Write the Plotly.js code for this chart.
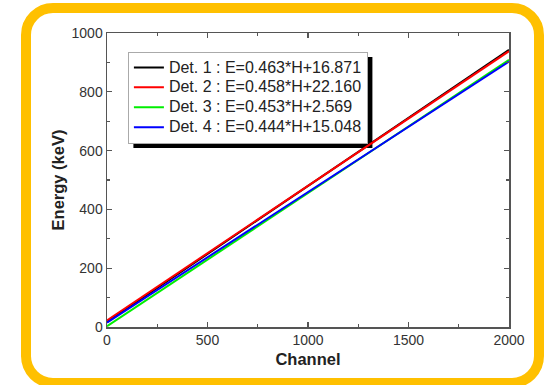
<!DOCTYPE html>
<html>
<head>
<meta charset="utf-8">
<script src="https://cdn.plot.ly/plotly-3.0.1.min.js"></script>
<style>
  html, body { margin: 0; padding: 0; background: #ffffff; }
  #wrap { position: relative; width: 546px; height: 385px; overflow: hidden; background: #ffffff; }
  #frame { position: absolute; left: 21px; top: 3px; width: 503px; height: 365px;
           border: 10px solid #FFC000; border-radius: 32px; box-sizing: content-box; pointer-events: none; }
  #chart { position: absolute; left: 0; top: 0; width: 546px; height: 385px; }
  .legendtext { font-size: 16px !important; }
</style>
</head>
<body>
<div id="wrap">
  <div id="frame"></div>
  <div id="chart"></div>
</div>
<script>
// Data (straight calibration lines, endpoints at channel 0 and 2000)
const channels = [0, 2000];
const det1 = [16.871, 942.871];
const det2 = [22.160, 938.160];
const det3 = [2.569, 908.569];
const det4 = [15.048, 903.048];
const seriesNames = [
  "Det. 1 : E=0.463*H+16.871",
  "Det. 2 : E=0.458*H+22.160",
  "Det. 3 : E=0.453*H+2.569",
  "Det. 4 : E=0.444*H+15.048"
];
const seriesColors = ["#000000", "#ff0000", "#00ee00", "#0000ff"];
const xTicks = [0, 500, 1000, 1500, 2000];
const yTicks = [0, 200, 400, 600, 800, 1000];

const allY = [det1, det2, det3, det4];
const traces = allY.map((ys, i) => ({
  x: channels, y: ys, type: "scatter", mode: "lines",
  name: seriesNames[i],
  line: { color: seriesColors[i], width: 2 }
}));

const FONT = "Liberation Sans, Arial, sans-serif";
const axisCommon = {
  showline: true, linecolor: "#555555", linewidth: 1.5, mirror: "ticks",
  ticks: "inside", ticklen: 5, tickwidth: 1.2, tickcolor: "#555555",
  showgrid: false, zeroline: false, automargin: false,
  tickfont: { family: FONT, size: 14, color: "#333333" },
  fixedrange: true
};

const M = { l: 107, r: 37, t: 33, b: 58 };
const layout = {
  width: 546, height: 385,
  margin: M,
  paper_bgcolor: "rgba(0,0,0,0)",
  plot_bgcolor: "#ffffff",
  showlegend: true,
  xaxis: Object.assign({}, axisCommon, {
    range: [0, 2000], tickvals: xTicks, ticktext: xTicks.map(String),
    minor: { dtick: 250, ticks: "inside", ticklen: 3, tickcolor: "#555555", tickwidth: 1.2 },
    title: { text: "<b>Channel</b>", font: { family: FONT, size: 16.5, color: "#222222" }, standoff: 6 }
  }),
  yaxis: Object.assign({}, axisCommon, {
    range: [0, 1000], tickvals: yTicks, ticktext: yTicks.map(String),
    minor: { dtick: 100, ticks: "inside", ticklen: 3, tickcolor: "#555555", tickwidth: 1.2 },
    title: { text: "<b>Energy (keV)</b>", font: { family: FONT, size: 16.5, color: "#222222" }, standoff: 3 }
  }),
  legend: {
    x: 0.052, y: 0.937, xanchor: "left", yanchor: "top",
    bgcolor: "#ffffff", bordercolor: "#aaaaaa", borderwidth: 1,
    font: { family: FONT, size: 13, color: "#222222" },
    tracegroupgap: 0, itemwidth: 30
  },
  shapes: [{
    type: "rect", xref: "paper", yref: "paper",
    x0: 0.0647, x1: 0.647, y0: 0.629, y1: 0.918,
    fillcolor: "#000000", line: { width: 0 }, layer: "below"
  }]
};

Plotly.newPlot("chart", traces, layout, { displayModeBar: false, staticPlot: true }).then(gd => {
  // place the drop shadow 5px right/down of the legend box as drawn
  const bg = gd.querySelector(".legend .bg");
  const root = gd.getBoundingClientRect();
  if (!bg) return;
  const r = bg.getBoundingClientRect();
  const pw = 546 - M.l - M.r, ph = 385 - M.t - M.b;
  const off = 5;
  const x0 = (r.left - root.left + off - M.l) / pw;
  const x1 = (r.right - root.left + off - M.l) / pw;
  const y1 = (385 - M.b - (r.top - root.top + off)) / ph;
  const y0 = (385 - M.b - (r.bottom - root.top + off)) / ph;
  return Plotly.relayout(gd, { "shapes[0].x0": x0, "shapes[0].x1": x1, "shapes[0].y0": y0, "shapes[0].y1": y1 });
});
</script>
</body>
</html>
